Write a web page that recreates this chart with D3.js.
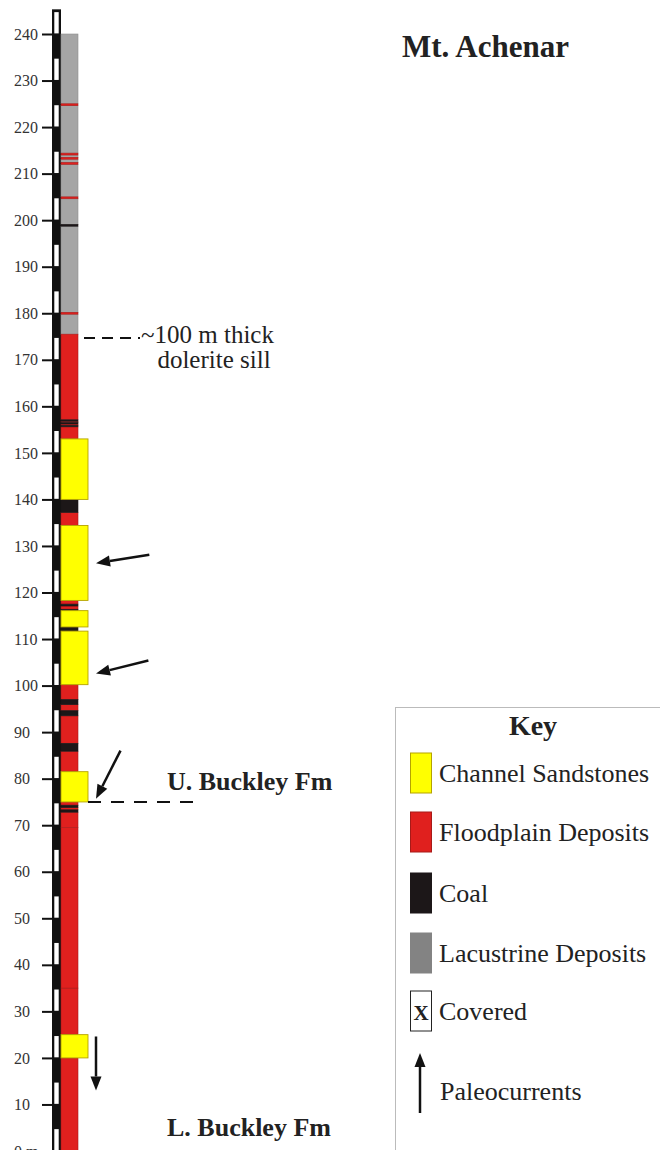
<!DOCTYPE html>
<html><head><meta charset="utf-8">
<script src="https://cdn.jsdelivr.net/npm/d3@7"></script>
<style>html,body{margin:0;padding:0;background:#fff;} svg{display:block;} text{font-family:'Liberation Serif','Times New Roman',Times,serif;}</style>
</head><body>
<svg id="c" width="660" height="1150"></svg>
<script>
// ---------------- data ----------------
const title = "Mt. Achenar";
const tickValues = [0,10,20,30,40,50,60,70,80,90,100,110,120,130,140,150,160,170,180,190,200,210,220,230,240];
const tickLabels = ["0 m","10","20","30","40","50","60","70","80","90","100","110","120","130","140","150","160","170","180","190","200","210","220","230","240"];

// stratigraphic units (metres), bottom to top; F floodplain, S channel sandstone, C coal, L lacustrine
const unitBase = [0, 20, 25, 35, 69.5, 72.8, 73.3, 73.8, 74.3, 75, 81.5, 85.9, 87.6, 93.5, 94.6, 95.9, 97, 100.2, 111.7, 112.6, 116.1, 116.4, 117.1, 117.5, 118.3, 134.4, 137.2, 140, 153, 155.6, 155.9, 156.2, 156.5, 156.8, 157.1, 175.5, 179.8, 180.2, 198.7, 199.1, 204.6, 205.0, 212.0, 212.4, 213.1, 213.5, 214.0, 214.4, 224.6, 225.0];
const unitTop  = [20, 25, 35, 69.5, 72.8, 73.3, 73.8, 74.3, 75, 81.5, 85.9, 87.6, 93.5, 94.6, 95.9, 97, 100.2, 111.7, 112.6, 116.1, 116.4, 117.1, 117.5, 118.3, 134.4, 137.2, 140, 153, 155.6, 155.9, 156.2, 156.5, 156.8, 157.1, 175.5, 179.8, 180.2, 198.7, 199.1, 204.6, 205.0, 212.0, 212.4, 213.1, 213.5, 214.0, 214.4, 224.6, 225.0, 240];
const unitType = ["F","S","F","F","F","C","F","C","F","S","F","C","F","C","F","C","F","S","C","S","C","F","C","F","S","F","C","S","F","C","F","C","F","C","F","L","F","L","C","L","F","L","F","L","F","L","F","L","F","L"];

// paleocurrent arrows: level of arrow tip (m) and bearing (deg, up = north)
const paleoLevel = [126.3, 102.6, 75.7, 13.0];
const paleoBearing = [261, 256, 207, 180];

const contactLevel = 75;       // U./L. Buckley Fm contact
const sillLevel = 174.7;       // base of dolerite sill
const sillText = ["~100 m thick", "dolerite sill"];
const formationNames = ["U. Buckley Fm", "L. Buckley Fm"];
const formationLevels = [77.6, 3.2];

const legendTitle = "Key";
const legendTypes = ["S","F","C","KL","X"];
const legendLabels = ["Channel Sandstones","Floodplain Deposits","Coal","Lacustrine Deposits","Covered"];
const legendArrowLabel = "Paleocurrents";

// ---------------- styles ----------------
const fill = {S:"#ffff00", F:"#e0201e", C:"#1c1718", L:"#a5a5a5", KL:"#838383", X:"#ffffff"};
const strokeC = {S:"#b5a300", F:"#a81a18", C:"#1c1718", L:"#8e8e8e", KL:"#838383", X:"#222"};
const serif = "'Liberation Serif','Times New Roman',Times,serif";

const svg = d3.select("#c");
const y = d3.scaleLinear().domain([0,240]).range([1151,34]);

// ---------------- scale bar ----------------
const barX = 52, barW = 9;
svg.append("rect").attr("x", barX).attr("y", y(245.3)).attr("width", barW)
   .attr("height", 1160 - y(245.3)).attr("fill", "#111");
svg.append("g").selectAll("rect").data(d3.range(0, 241, 10)).join("rect")
   .attr("x", barX + 2.3).attr("width", barW - 4.6)
   .attr("y", d => y(d + 4.7)).attr("height", d => y(d) - y(d + 4.7) - 0.6)
   .attr("fill", "#fff");

// axis
const axis = d3.axisLeft(y).tickValues(tickValues).tickFormat((d,i) => tickLabels[i]).tickSize(10).tickPadding(0);
const ag = svg.append("g").attr("transform", `translate(${barX},0)`).call(axis)
   .attr("font-family", serif).attr("font-size", 16);
ag.select(".domain").remove();
ag.selectAll(".tick line").attr("stroke", "#111").attr("stroke-width", 2);
ag.selectAll(".tick text").attr("text-anchor", "start").attr("x", -38).attr("dy", "0.32em")
  .style("font-family", serif).style("font-size", "16px").attr("fill", "#333");

// ---------------- lithology column ----------------
const colX = 61, narrowW = 17, wideW = 27;
const units = unitBase.map((b,i) => ({base:b, top:unitTop[i], type:unitType[i]}));
const order = {L:0, F:1, C:2, S:3};
svg.append("g").selectAll("rect").data(units.slice().sort((a,b) => order[a.type]-order[b.type])).join("rect")
   .attr("x", colX)
   .attr("width", d => d.type === "S" ? wideW : narrowW)
   .attr("y", d => y(d.top)).attr("height", d => y(d.base) - y(d.top))
   .attr("fill", d => fill[d.type])
   .attr("stroke", d => strokeC[d.type])
   .attr("stroke-width", d => d.type === "S" ? 0.9 : 0.6);

// ---------------- dashed lines & labels ----------------
svg.append("line").attr("x1", 84).attr("x2", 140).attr("y1", y(sillLevel)).attr("y2", y(sillLevel))
   .attr("stroke", "#111").attr("stroke-width", 2).attr("stroke-dasharray", "11,7");
svg.append("text").attr("x", 141).attr("y", y(sillLevel) + 5).text(sillText[0])
   .style("font-family", serif).attr("font-size", 25).attr("fill", "#222");
svg.append("text").attr("x", 214).attr("y", y(sillLevel) + 30).attr("text-anchor", "middle").text(sillText[1])
   .style("font-family", serif).attr("font-size", 25).attr("fill", "#222");

svg.append("line").attr("x1", 88).attr("x2", 193).attr("y1", y(contactLevel)).attr("y2", y(contactLevel))
   .attr("stroke", "#111").attr("stroke-width", 2).attr("stroke-dasharray", "13,10");

svg.append("g").selectAll("text").data(formationNames).join("text")
   .attr("x", 167).attr("y", (d,i) => y(formationLevels[i])).text(d => d)
   .style("font-family", serif).attr("font-weight", "bold").attr("font-size", 26).attr("fill", "#222");

svg.append("text").attr("x", 402).attr("y", 57).text(title)
   .style("font-family", serif).attr("font-weight", "bold").attr("font-size", 31).attr("fill", "#222");

// ---------------- paleocurrent arrows ----------------
function arrow(g, tx, ty, bearing, len) {
  const r = bearing * Math.PI / 180;
  const dx = Math.sin(r), dy = -Math.cos(r);
  const hl = 14, hw = 5.5;
  const bx = tx - dx*hl, by = ty - dy*hl;
  g.append("line").attr("x1", tx - dx*len).attr("y1", ty - dy*len).attr("x2", bx).attr("y2", by)
   .attr("stroke", "#111").attr("stroke-width", 2.5);
  const px = -dy, py = dx;
  g.append("path").attr("d", `M${tx},${ty}L${bx+px*hw},${by+py*hw}L${bx-px*hw},${by-py*hw}Z`).attr("fill", "#111");
}
const arrows = svg.append("g");
paleoLevel.forEach((lv,i) => arrow(arrows, 96, y(lv), paleoBearing[i], 54));

// ---------------- key ----------------
const key = svg.append("g");
key.append("rect").attr("x", 395.5).attr("y", 707.5).attr("width", 280).attr("height", 460)
   .attr("fill", "none").attr("stroke", "#bbb").attr("stroke-width", 1);
key.append("text").attr("x", 533).attr("y", 735).attr("text-anchor", "middle").text(legendTitle)
   .style("font-family", serif).attr("font-weight", "bold").attr("font-size", 28).attr("fill", "#222");
const rowY = [753, 812, 873, 933, 991];
const ki = key.selectAll("g.item").data(legendTypes).join("g").attr("class", "item")
   .attr("transform", (d,i) => `translate(0,${rowY[i]})`);
ki.append("rect").attr("x", 410.5).attr("y", 0).attr("width", 21).attr("height", 40)
  .attr("fill", d => fill[d]).attr("stroke", d => strokeC[d]).attr("stroke-width", 1);
ki.filter(d => d === "X").append("text").attr("x", 421).attr("y", 29).attr("text-anchor", "middle").text("X")
  .style("font-family", serif).attr("font-weight", "bold").attr("font-size", 21).attr("fill", "#222");
ki.append("text").attr("x", 439).attr("y", 29).text((d,i) => legendLabels[i])
  .style("font-family", serif).attr("font-size", 26).attr("fill", "#222");
arrow(key, 420, 1053, 0, 60);
key.append("text").attr("x", 440).attr("y", 1100).text(legendArrowLabel)
   .style("font-family", serif).attr("font-size", 26).attr("fill", "#222");
</script>
</body></html>
